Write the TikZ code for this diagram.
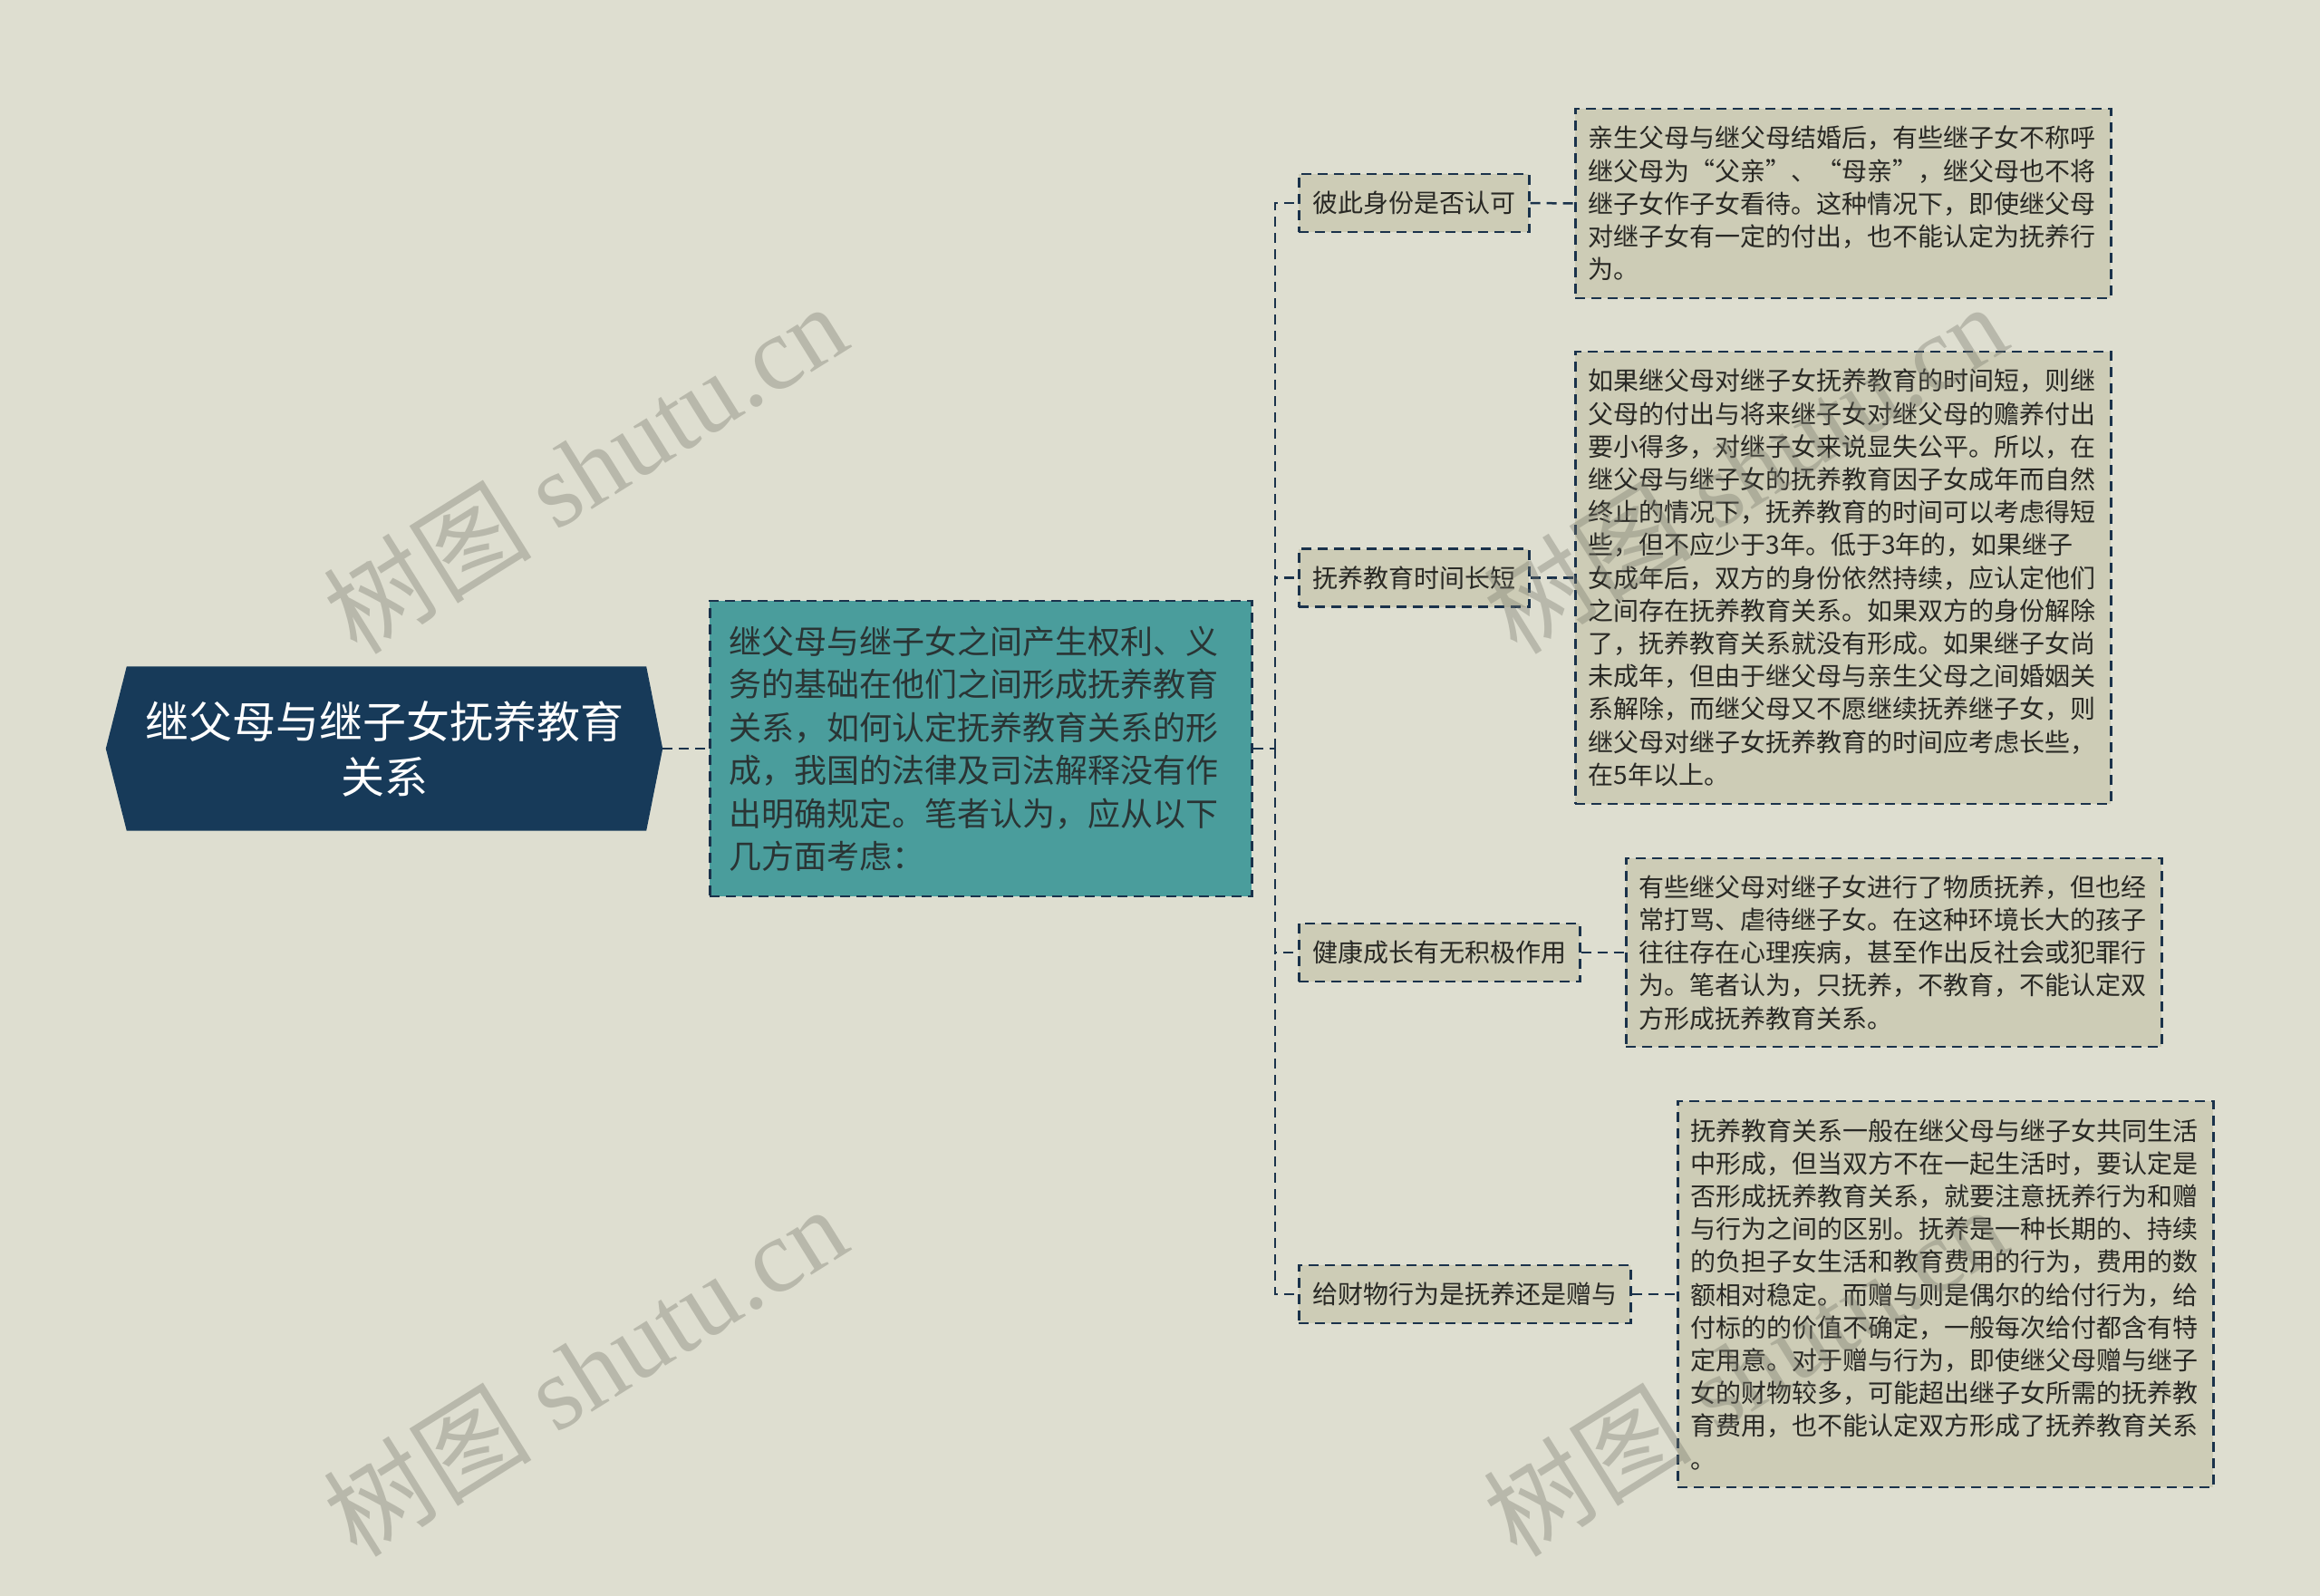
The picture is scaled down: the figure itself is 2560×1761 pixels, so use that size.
\documentclass[tikz,border=0pt]{standalone}
\usepackage{fontspec}
\setmainfont{Noto Sans CJK SC}
\newfontfamily\wmserif{Liberation Serif}
\usetikzlibrary{calc,backgrounds}
\definecolor{bg}{RGB}{222,222,208}
\definecolor{boxfill}{RGB}{205,204,182}
\definecolor{tealfill}{RGB}{74,157,156}
\definecolor{navy}{RGB}{23,58,89}
\definecolor{dashc}{RGB}{26,50,75}
\definecolor{txt}{RGB}{40,40,36}
\definecolor{maintxt}{RGB}{42,52,52}
\definecolor{wm}{RGB}{120,120,108}
\begin{document}
\begin{tikzpicture}[x=1pt,y=-1pt,
  dashline/.style={draw=dashc, line width=2.5pt, dash pattern=on 11pt off 7pt},
  conn/.style={dashline},
  detail/.style={dashline, fill=boxfill, text=txt, anchor=west, inner xsep=14.5pt, inner ysep=0pt,
    text width=562pt, align=left, font=\fontsize{28}{36.2}\selectfont},
  child/.style={dashline, fill=boxfill, text=txt, anchor=west, inner xsep=15pt, inner ysep=0pt,
    minimum height=64pt, font=\fontsize{28}{34}\selectfont},
  wmark/.style={text=wm, opacity=0.37, rotate=32, inner sep=0pt, font=\fontsize{115}{120}\selectfont}
]
\useasboundingbox (0,0) rectangle (2560,1761);

% root
\node[minimum width=614pt, minimum height=181pt, inner sep=0pt, text=white, align=center,
  font=\fontsize{48}{61}\selectfont] (root) at (424,826) {继父母与继子女抚养教育\\关系};

% main
\node[dashline, fill=tealfill, anchor=west, minimum height=326pt, text width=556pt, inner xsep=21pt,
  inner ysep=0pt, align=left, text=maintxt, font=\fontsize{36}{47.5}\selectfont] (main) at (782,826)
  {继父母与继子女之间产生权利、义\\务的基础在他们之间形成抚养教育\\关系，如何认定抚养教育关系的形\\成，我国的法律及司法解释没有作\\出明确规定。笔者认为，应从以下\\几方面考虑：};

\begin{scope}[on background layer]
  \fill[bg] (0,0) rectangle (2560,1761);
  \fill[navy] (root.west) -- ($(root.north west)+(23,0)$) -- ($(root.north east)+(-18,0)$) -- (root.east)
    -- ($(root.south east)+(-18,0)$) -- ($(root.south west)+(23,0)$) -- cycle;
\end{scope}

% children
\node[child] (c1) at (1432,224) {彼此身份是否认可};
\node[child] (c2) at (1432,637.5) {抚养教育时间长短};
\node[child] (c3) at (1432,1051) {健康成长有无积极作用};
\node[child] (c4) at (1432,1428) {给财物行为是抚养还是赠与};

% details
\node[detail, minimum height=209pt] (d1) at (1737,224.5)
  {亲生父母与继父母结婚后，有些继子女不称呼\\继父母为“父亲”、“母亲”，继父母也不将\\继子女作子女看待。这种情况下，即使继父母\\对继子女有一定的付出，也不能认定为抚养行\\为。};
\node[detail, minimum height=499pt] (d2) at (1737,637.5)
  {如果继父母对继子女抚养教育的时间短，则继\\父母的付出与将来继子女对继父母的赡养付出\\要小得多，对继子女来说显失公平。所以，在\\继父母与继子女的抚养教育因子女成年而自然\\终止的情况下，抚养教育的时间可以考虑得短\\些，但不应少于3年。低于3年的，如果继子\\女成年后，双方的身份依然持续，应认定他们\\之间存在抚养教育关系。如果双方的身份解除\\了，抚养教育关系就没有形成。如果继子女尚\\未成年，但由于继父母与亲生父母之间婚姻关\\系解除，而继父母又不愿继续抚养继子女，则\\继父母对继子女抚养教育的时间应考虑长些，\\在5年以上。};
\node[detail, minimum height=208pt] (d3) at (1793,1051)
  {有些继父母对继子女进行了物质抚养，但也经\\常打骂、虐待继子女。在这种环境长大的孩子\\往往存在心理疾病，甚至作出反社会或犯罪行\\为。笔者认为，只抚养，不教育，不能认定双\\方形成抚养教育关系。};
\node[detail, minimum height=426pt] (d4) at (1850,1428)
  {抚养教育关系一般在继父母与继子女共同生活\\中形成，但当双方不在一起生活时，要认定是\\否形成抚养教育关系，就要注意抚养行为和赠\\与行为之间的区别。抚养是一种长期的、持续\\的负担子女生活和教育费用的行为，费用的数\\额相对稳定。而赠与则是偶尔的给付行为，给\\付标的的价值不确定，一般每次给付都含有特\\定用意。对于赠与行为，即使继父母赠与继子\\女的财物较多，可能超出继子女所需的抚养教\\育费用，也不能认定双方形成了抚养教育关系\\。};

% connectors
\coordinate (trunk) at (1407,826);
\draw[conn] (root.east) -- (main.west);
\draw[conn] (main.east) -- (trunk);
\draw[conn] (trunk) |- (c1.west);
\draw[conn] (trunk) |- (c2.west);
\draw[conn] (trunk) |- (c3.west);
\draw[conn] (trunk) |- (c4.west);
\draw[conn] (c1.east) -- (d1.west);
\draw[conn] (c2.east) -- (d2.west);
\draw[conn] (c3.east) -- (d3.west);
\draw[conn] (c4.east) -- (d4.west);

% watermarks
\node[wmark] (wm1) at (645,516) {树图{\wmserif\ shutu.cn}};
\node[wmark] (wm2) at (645,1512) {树图{\wmserif\ shutu.cn}};
\node[wmark] (wm3) at (1925,516) {树图{\wmserif\ shutu.cn}};
\node[wmark] (wm4) at (1925,1512) {树图{\wmserif\ shutu.cn}};
\end{tikzpicture}
\end{document}
